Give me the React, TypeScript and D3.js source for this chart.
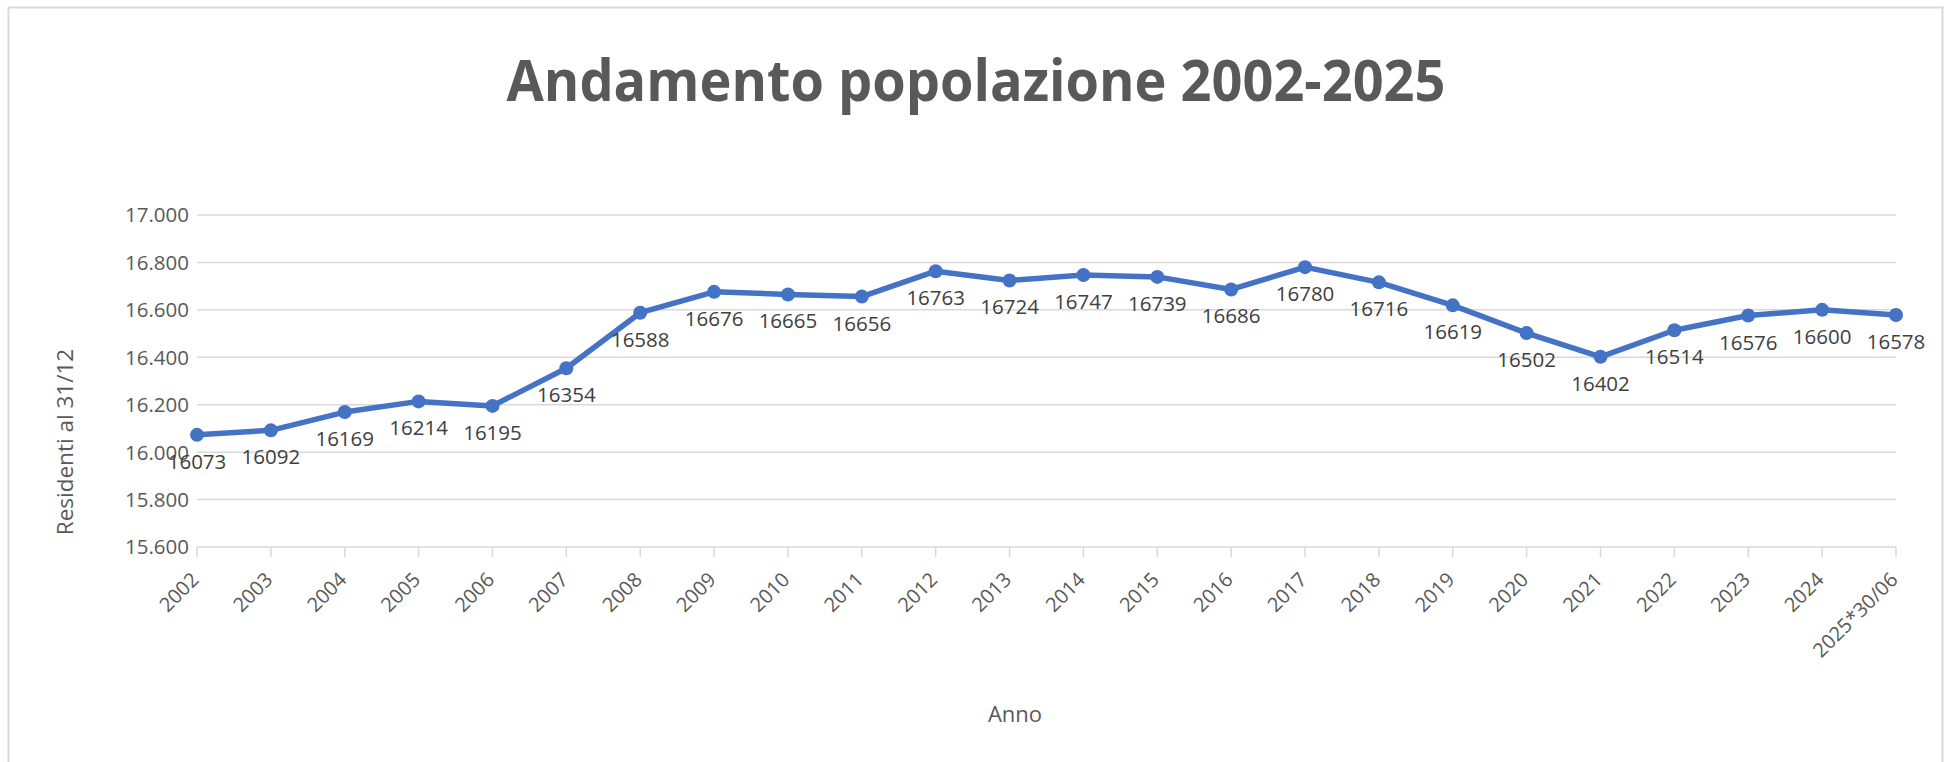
import React from "react";
import * as d3 from "d3";

const years = ["2002","2003","2004","2005","2006","2007","2008","2009","2010","2011","2012","2013","2014","2015","2016","2017","2018","2019","2020","2021","2022","2023","2024","2025*30/06"];
const residents = [16073,16092,16169,16214,16195,16354,16588,16676,16665,16656,16763,16724,16747,16739,16686,16780,16716,16619,16502,16402,16514,16576,16600,16578];
const yTicks = [15600,15800,16000,16200,16400,16600,16800,17000];
const title = "Andamento popolazione 2002-2025";
const yTitle = "Residenti al 31/12";
const xTitle = "Anno";

const W = 1946, H = 762;
const FONT = "'Open Sans', 'Noto Sans', sans-serif";

export default function App() {
  const x = d3.scalePoint<string>().domain(years).range([197, 1896]);
  const y = d3.scaleLinear().domain([15600, 17000]).range([547, 215]);
  const fmt = (v: number) => d3.format(",")(v).replace(/,/g, ".");
  const line = d3.line<number>().x((_, i) => x(years[i]) as number).y(d => y(d));

  return (
    <svg width={W} height={H} style={{ position: "absolute", left: 0, top: 0, background: "#fff" }} fontFamily={FONT}>
      <rect x={0} y={0} width={W} height={H} fill="#fff" />
      <rect x={8.5} y={7.5} width={1934} height={H + 20} fill="#fff" stroke="#d9d9d9" strokeWidth={2} />
      <text x={976} y={101} textAnchor="middle" fontSize={57} fontWeight={700} fill="#595959" textLength={939} lengthAdjust="spacingAndGlyphs">{title}</text>

      {yTicks.map(t => (
        <g key={t}>
          {t !== 15600 && <line x1={197} x2={1896} y1={y(t)} y2={y(t)} stroke="#d9d9d9" strokeWidth={1.5} />}
          <text x={189} y={y(t)} dy="0.36em" textAnchor="end" fontSize={20.5} fill="#595959">{fmt(t)}</text>
        </g>
      ))}
      <line x1={197} x2={1896} y1={y(15600)} y2={y(15600)} stroke="#d9d9d9" strokeWidth={1.5} />
      {years.map(yr => (
        <g key={yr}>
          <line x1={x(yr)} x2={x(yr)} y1={y(15600)} y2={y(15600) + 10} stroke="#d9d9d9" strokeWidth={1.5} />
          <text transform={`translate(${(x(yr) as number) + 3},${581}) rotate(-45)`} textAnchor="end" fontSize={20} fill="#595959">{yr}</text>
        </g>
      ))}

      <path d={line(residents) || ""} fill="none" stroke="#4472C4" strokeWidth={5.5} strokeLinejoin="round" strokeLinecap="round" />
      {residents.map((v, i) => (
        <circle key={i} cx={x(years[i])} cy={y(v)} r={7} fill="#4472C4" />
      ))}
      {residents.map((v, i) => (
        <text key={"l" + i} x={x(years[i])} y={y(v) + 34} textAnchor="middle" fontSize={20.5} fill="#404040">{v}</text>
      ))}

      <text transform={`translate(73,442) rotate(-90)`} textAnchor="middle" fontSize={22.5} fill="#595959">{yTitle}</text>
      <text x={1015} y={722} textAnchor="middle" fontSize={22} fill="#595959">{xTitle}</text>
    </svg>
  );
}
